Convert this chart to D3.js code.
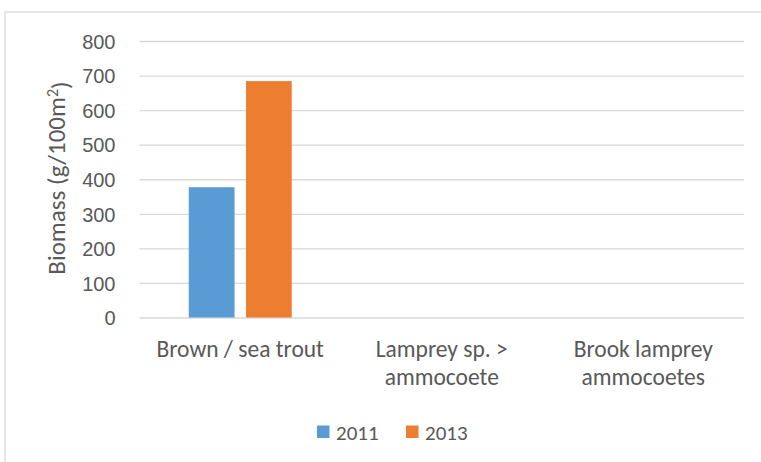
<!DOCTYPE html>
<html>
<head>
<meta charset="utf-8">
<script src="https://cdn.jsdelivr.net/npm/d3@7"></script>
<style>
  html, body { margin: 0; padding: 0; background: #ffffff; }
  svg { display: block; font-family: Carlito, Calibri, Lato, sans-serif; }
</style>
</head>
<body>
<svg id="chart" width="761" height="462"></svg>
<script>
// Fish biomass by taxon, two survey years
const categories = [["Brown / sea trout"], ["Lamprey sp. >", "ammocoete"], ["Brook lamprey", "ammocoetes"]];
const seriesNames = ["2011", "2013"];
const values2011 = [377, 0, 0];
const values2013 = [684, 0, 0];
const yTicks = [0, 100, 200, 300, 400, 500, 600, 700, 800];
const colors = ["#5b9bd5", "#ed7d31"];

const svg = d3.select("#chart");
const plot = { left: 139.5, right: 744, top: 41, bottom: 317.5 };
const textColor = "#595959";
const numSize = "20px";
const legendSize = "21px";
const labelSize = "23.5px";
const titleSize = "25px";

// chart frame
svg.append("rect")
  .attr("x", 5).attr("y", 12)
  .attr("width", 800).attr("height", 500)
  .attr("fill", "#ffffff")
  .attr("stroke", "#d9d9d9").attr("stroke-width", 1.3);

const y = d3.scaleLinear().domain([0, 800]).range([plot.bottom, plot.top]);
const catKeys = categories.map((c, i) => i);
const x0 = d3.scaleBand().domain(catKeys).range([plot.left, plot.right]).paddingInner(0).paddingOuter(0);
const groupWidth = x0.bandwidth() * 0.511;
const x1 = d3.scaleBand().domain(seriesNames).range([0, groupWidth]).paddingInner(0.2).paddingOuter(0);

// gridlines and value ticks
const yAxis = d3.axisLeft(y).tickValues(yTicks).tickSize(-(plot.right - plot.left)).tickPadding(24).tickFormat(d3.format("d"));
const gy = svg.append("g").attr("transform", `translate(${plot.left},0)`).call(yAxis);
gy.select(".domain").remove();
gy.selectAll(".tick line").attr("stroke", "#d9d9d9").attr("stroke-width", 1.3);
gy.selectAll(".tick text")
  .attr("fill", textColor)
  .style("font-size", numSize)
  .attr("dy", "0.36em");

// bars
const rows = catKeys.map(i => ({ i, vals: [values2011[i], values2013[i]] }));
const groups = svg.append("g").selectAll("g").data(rows).join("g")
  .attr("transform", d => `translate(${x0(d.i) + (x0.bandwidth() - groupWidth) / 2},0)`);
groups.selectAll("rect")
  .data(d => d.vals.map((v, k) => ({ v, k })))
  .join("rect")
  .attr("x", d => x1(seriesNames[d.k]))
  .attr("width", x1.bandwidth())
  .attr("y", d => y(d.v))
  .attr("height", d => y(0) - y(d.v))
  .attr("fill", d => colors[d.k]);

// category labels
const catG = svg.append("g");
categories.forEach((lines, i) => {
  const t = catG.append("text")
    .attr("text-anchor", "middle")
    .attr("fill", textColor)
    .style("font-size", labelSize);
  lines.forEach((ln, j) => {
    t.append("tspan")
      .attr("x", x0(i) + x0.bandwidth() / 2)
      .attr("y", 357 + j * 28)
      .text(ln);
  });
});

// y axis title
const title = svg.append("text")
  .attr("transform", `translate(65,178) rotate(-90)`)
  .attr("text-anchor", "middle")
  .attr("fill", textColor)
  .style("font-size", titleSize);
title.append("tspan").text("Biomass (g/100m");
title.append("tspan").attr("dy", "-0.45em").style("font-size", "16px").text("2");
title.append("tspan").attr("dy", "0.45em").text(")");

// legend
const legend = svg.append("g");
const legendX = [317, 406];
seriesNames.forEach((name, k) => {
  legend.append("rect")
    .attr("x", legendX[k]).attr("y", 425.5)
    .attr("width", 12.5).attr("height", 12.5)
    .attr("fill", colors[k]);
  legend.append("text")
    .attr("x", legendX[k] + 19).attr("y", 439.5)
    .attr("fill", textColor)
    .style("font-size", legendSize)
    .text(name);
});
</script>
</body>
</html>
